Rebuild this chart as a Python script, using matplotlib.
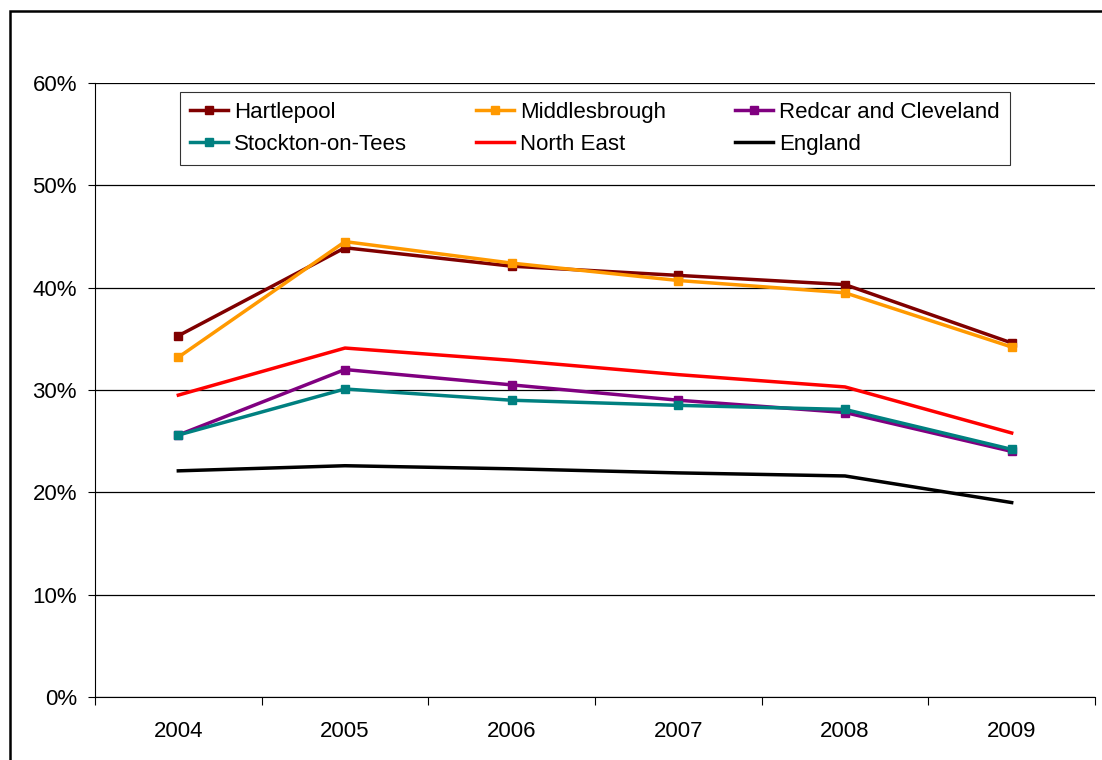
import matplotlib.pyplot as plt
from matplotlib.patches import Rectangle

plt.rcParams['font.family'] = ['Liberation Sans', 'DejaVu Sans']

# data (percent)
years = ['2004', '2005', '2006', '2007', '2008', '2009']
hartlepool = [35.3, 43.9, 42.1, 41.2, 40.3, 34.6]
middlesbrough = [33.2, 44.5, 42.4, 40.7, 39.5, 34.2]
redcar = [25.6, 32.0, 30.5, 29.0, 27.8, 24.0]
stockton = [25.6, 30.1, 29.0, 28.5, 28.1, 24.2]
north_east = [29.5, 34.1, 32.9, 31.5, 30.3, 25.8]
england = [22.1, 22.6, 22.3, 21.9, 21.6, 19.0]

fig = plt.figure(figsize=(11.02, 7.6), dpi=100)
ax = fig.add_axes([95 / 1102, 63 / 760, 1000 / 1102, 614 / 760])

x = list(range(len(years)))
lw = 2.5
ms = 6

h1, = ax.plot(x, hartlepool, color='#800000', lw=lw, marker='s', ms=ms, label='Hartlepool')
h2, = ax.plot(x, middlesbrough, color='#FF9900', lw=lw, marker='s', ms=ms, label='Middlesbrough')
h3, = ax.plot(x, redcar, color='#800080', lw=lw, marker='s', ms=ms, label='Redcar and Cleveland')
h4, = ax.plot(x, stockton, color='#008080', lw=lw, marker='s', ms=ms, label='Stockton-on-Tees')
h5, = ax.plot(x, north_east, color='#FF0000', lw=lw, label='North East')
h6, = ax.plot(x, england, color='#000000', lw=lw, label='England')

# axes styling
ax.set_xlim(-0.5, len(years) - 0.5)
ax.set_ylim(0, 60)
ax.set_yticks(range(0, 61, 10))
ax.set_yticklabels([f'{v}%' for v in range(0, 61, 10)], fontsize=16)
ax.yaxis.grid(True, color='black', lw=0.9)
ax.set_axisbelow(True)

ax.set_xticks([i - 0.5 for i in range(len(years) + 1)])
ax.set_xticklabels([])
ax.set_xticks(x, minor=True)
ax.set_xticklabels(years, minor=True, fontsize=16)
ax.tick_params(axis='x', which='minor', length=0, pad=17)
ax.tick_params(axis='x', which='major', length=6, direction='out')
ax.tick_params(axis='y', length=5, direction='out', pad=8)

for s in ['top', 'right']:
    ax.spines[s].set_visible(False)
ax.spines['left'].set_color('black')
ax.spines['bottom'].set_color('black')

# legend, filled row by row
handles = [h1, h4, h2, h5, h3, h6]
leg = ax.legend(handles=handles, labels=[h.get_label() for h in handles],
                ncol=3, loc='upper left', bbox_to_anchor=(0.085, 0.985, 0.83, 0.0),
                mode='expand', fontsize=16, frameon=True, fancybox=False,
                edgecolor='black', handlelength=1.7, handletextpad=0.3,
                borderpad=0.45, labelspacing=0.48, borderaxespad=0)
leg.get_frame().set_linewidth(0.8)

# chart border (left and top visible)
fig.add_artist(Rectangle((10 / 1102, -0.1), 1.2, (760 - 11) / 760 + 0.1,
                         transform=fig.transFigure, fill=False,
                         edgecolor='black', lw=1.8))

fig.savefig('out.png', dpi=100)
